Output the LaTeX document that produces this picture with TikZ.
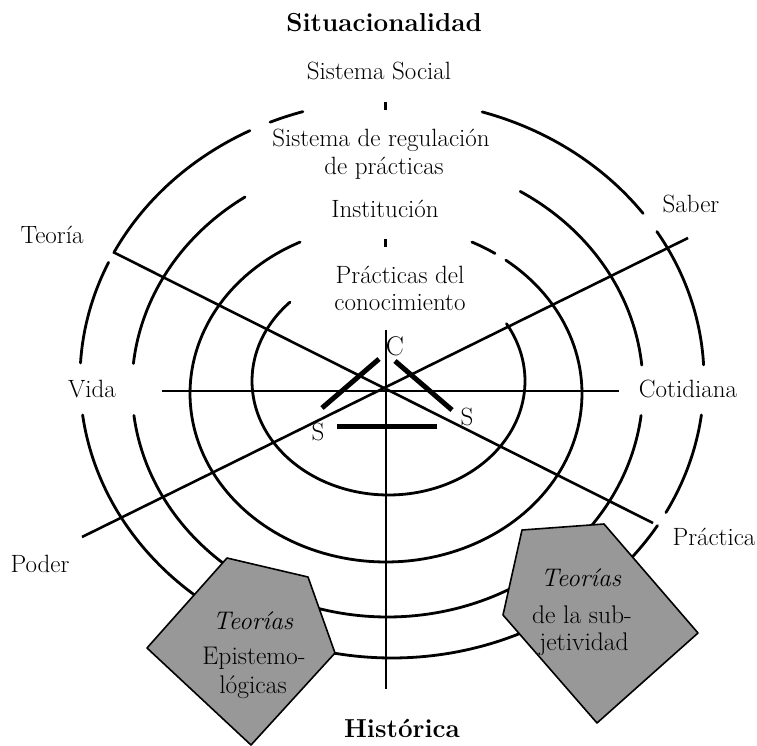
\documentclass[tikz,border=0pt]{standalone}
\usepackage{fontspec}
\definecolor{pgray}{RGB}{152,152,152}
\begin{document}
\begin{tikzpicture}[x=1pt,y=-1pt,
  ring/.style={line width=2.8pt, line cap=round},
  axisline/.style={line width=2.6pt},
  vaxis/.style={line width=2.2pt},
  tri/.style={line width=5pt},
  lab/.style={font=\fontsize{25}{28}\selectfont, anchor=base, inner sep=0pt},
  plab/.style={font=\fontsize{25.5}{28}\selectfont, anchor=base, inner sep=0pt},
  pilab/.style={font=\fontsize{25.5}{28}\selectfont\itshape, anchor=base, inner sep=0pt},
  blab/.style={font=\fontsize{26}{28}\selectfont\bfseries, anchor=base, inner sep=0pt},
  pent/.style={draw=black, line width=1.6pt, fill=pgray, line join=round}]
\useasboundingbox (0,0) rectangle (757,746);

% ---------- ellipses ----------
% E1 (inner)
\draw[ring] plot[domain=-30.2:223.8, samples=120, variable=\t] ({388.5+136.5*cos(\t)},{381+114*sin(\t)});
% E2
\draw[ring] plot[domain=-52.3:244, samples=150, variable=\t] ({386+196*cos(\t)},{393.5+168.5*sin(\t)});
\draw[ring] plot[domain=-64:-56.2, samples=10, variable=\t] ({386+196*cos(\t)},{393.5+168.5*sin(\t)});
% E3
\draw[ring] plot[domain=186:236.1, samples=40, variable=\t] ({387.5+255.5*cos(\t)},{387.5+229.5*sin(\t)});
\draw[ring] plot[domain=7:173, samples=120, variable=\t] ({387.5+255.5*cos(\t)},{387.5+229.5*sin(\t)});
\draw[ring] plot[domain=-58.7:-5.6, samples=40, variable=\t] ({387.5+255.5*cos(\t)},{387.5+229.5*sin(\t)});
% E4 (outer)
\draw[ring] plot[domain=247:253.4, samples=10, variable=\t] ({392+312*cos(\t)},{379+279*sin(\t)});
\draw[ring] plot[domain=207:242.9, samples=40, variable=\t] ({392+312*cos(\t)},{379+279*sin(\t)});
\draw[ring] plot[domain=183.3:204.7, samples=30, variable=\t] ({392+312*cos(\t)},{379+279*sin(\t)});
\draw[ring] plot[domain=31.7:172.6, samples=120, variable=\t] ({392+312*cos(\t)},{379+279*sin(\t)});
\draw[ring] plot[domain=7.4:28.6, samples=30, variable=\t] ({392+312*cos(\t)},{379+279*sin(\t)});
\draw[ring] plot[domain=-31.9:-2.9, samples=30, variable=\t] ({392+312*cos(\t)},{379+279*sin(\t)});
\draw[ring] plot[domain=-73.2:-36.4, samples=40, variable=\t] ({392+312*cos(\t)},{379+279*sin(\t)});

% ---------- axes ----------
\coordinate (vtop) at (386,330);
\coordinate (vbot) at (386,689);
\coordinate (hl) at (162,391);
\coordinate (hr) at (619,391);
\coordinate (teoA) at (113,252);
\coordinate (pracB) at (653,523);
\coordinate (podA) at (82,537);
\coordinate (sabB) at (688,238);
\coordinate (tk1a) at (385,102);
\coordinate (tk1b) at (385,110);
\coordinate (tk2a) at (385,239);
\coordinate (tk2b) at (385,247);
\draw[vaxis] (vtop) -- (vbot);
\draw[axisline] (hl) -- (hr);
\draw[axisline] (teoA) -- (pracB);
\draw[axisline] (podA) -- (sabB);
\draw[line width=3pt] (tk1a) -- (tk1b);
\draw[line width=3pt] (tk2a) -- (tk2b);

% ---------- C-S-S triangle ----------
\coordinate (t1a) at (322,408);
\coordinate (t1b) at (379,359);
\coordinate (t2a) at (395,361);
\coordinate (t2b) at (452,410);
\coordinate (t3a) at (337,426);
\coordinate (t3b) at (437,426);
\draw[tri] (t1a) -- (t1b);
\draw[tri] (t2a) -- (t2b);
\draw[tri] (t3a) -- (t3b);
\node[lab, font=\fontsize{27}{28}\selectfont] (C) at (395,355) {C};
\node[lab] (S1) at (318,440) {S};
\node[lab] (S2) at (467,425) {S};

% ---------- pentagons ----------
\draw[pent] (227,558) -- (308,577) -- (335,653) -- (251,745) -- (147,648) -- cycle;
\draw[pent] (522,530) -- (604,524) -- (698,633) -- (597,723) -- (503,615) -- cycle;
\node[pilab] (tl1) at (253,629) {Teorías};
\node[plab] (tl2) at (254,664) {Epistemo-};
\node[plab] (tl3) at (253,693) {lógicas};
\node[pilab] (tr1) at (581,586) {Teorías};
\node[plab] (tr2) at (582,623) {de la sub-};
\node[plab] (tr3) at (584,650) {jetividad};

% ---------- texts ----------
\node[blab] (sit) at (384,32) {Situacionalidad};
\node[lab] (soc) at (379,80) {Sistema Social};
\node[lab] (reg1) at (381,147) {Sistema de regulación};
\node[lab] (reg2) at (384,175) {de prácticas};
\node[lab] (inst) at (385,218) {Institución};
\node[lab] (pr1) at (400,283) {Prácticas del};
\node[lab] (pr2) at (400,310) {conocimiento};
\node[blab] (his) at (402,737) {Histórica};

\node[lab] (teo) at (52,243) {Teoría};
\node[lab] (vid) at (92,397) {Vida};
\node[lab] (sab) at (691,212) {Saber};
\node[lab] (cot) at (688,397) {Cotidiana};
\node[lab] (pra) at (714,545) {Práctica};
\node[lab] (pod) at (40,572) {Poder};
\end{tikzpicture}
\end{document}
